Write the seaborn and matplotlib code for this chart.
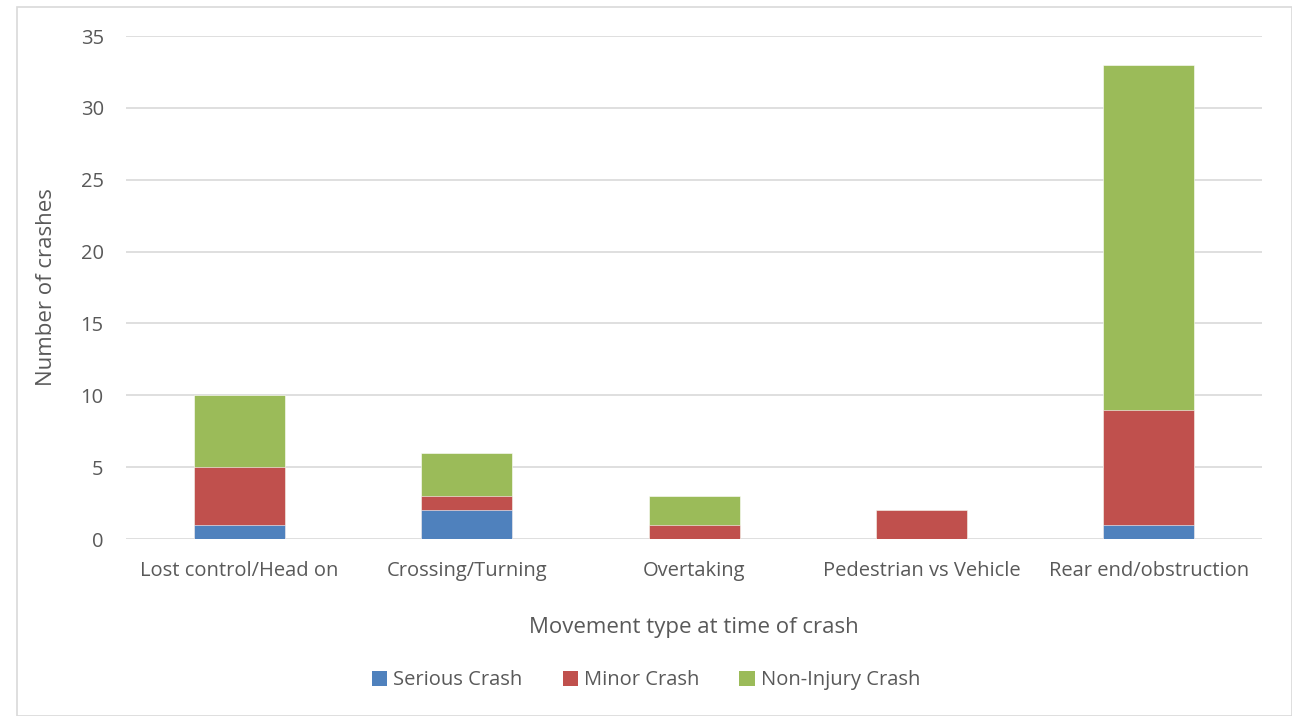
import pandas as pd
import matplotlib.pyplot as plt
import seaborn as sns
from matplotlib.patches import Rectangle, Patch

categories = ["Lost control/Head on", "Crossing/Turning", "Overtaking",
              "Pedestrian vs Vehicle", "Rear end/obstruction"]
serious = [1, 2, 0, 0, 1]
minor = [4, 1, 1, 2, 8]
non_injury = [5, 3, 2, 0, 24]

series_names = ["Serious Crash", "Minor Crash", "Non-Injury Crash"]
colors = ["#4f81bd", "#c0504d", "#9bbb59"]

df = pd.DataFrame({
    "category": categories,
    "Serious Crash": serious,
    "Minor Crash": minor,
    "Non-Injury Crash": non_injury,
})

# cumulative heights, drawn from the top down so each layer shows
df["cum_serious"] = df["Serious Crash"]
df["cum_minor"] = df["cum_serious"] + df["Minor Crash"]
df["cum_total"] = df["cum_minor"] + df["Non-Injury Crash"]

sns.set_style("white")
plt.rcParams["font.family"] = ["Open Sans", "DejaVu Sans"]

fig = plt.figure(figsize=(12.92, 7.16), dpi=100)
ax = fig.add_axes([0.0975, 0.2472, 0.8795, 0.7025])

for col, color in zip(["cum_total", "cum_minor", "cum_serious"], colors[::-1]):
    sns.barplot(
        data=df,
        x="category",
        y=col,
        color=color,
        width=0.4,
        saturation=1,
        edgecolor="white",
        linewidth=0.4,
        ax=ax,
        zorder=3
    )

ax.set_ylim(0, 35)
ax.set_yticks(range(0, 36, 5))
ax.yaxis.grid(True, color="#d9d9d9", linewidth=1.2, zorder=0)
ax.set_axisbelow(True)
for s in ax.spines.values():
    s.set_visible(False)

ax.tick_params(axis="both", length=0, labelsize=14.5, colors="#595959")
ax.tick_params(axis="y", pad=16)
ax.tick_params(axis="x", pad=16)

ax.set_xlabel("Movement type at time of crash", fontsize=16,
              color="#595959", labelpad=26)
ax.set_ylabel("Number of crashes", fontsize=16, color="#595959",
              labelpad=17)

handles = [Patch(facecolor=c, edgecolor="none") for c in colors]
fig.legend(handles, series_names, loc="center", bbox_to_anchor=(0.5, 0.05),
           ncol=3, frameon=False, fontsize=14.5, handlelength=0.75,
           handleheight=0.75, handletextpad=0.3, columnspacing=2.0,
           labelcolor="#595959")

fig.patches.append(Rectangle((0.013, 0.0), 0.987, 0.99, transform=fig.transFigure,
                             fill=False, edgecolor="#d9d9d9", linewidth=1.2))

fig.savefig("out.png", dpi=100)
